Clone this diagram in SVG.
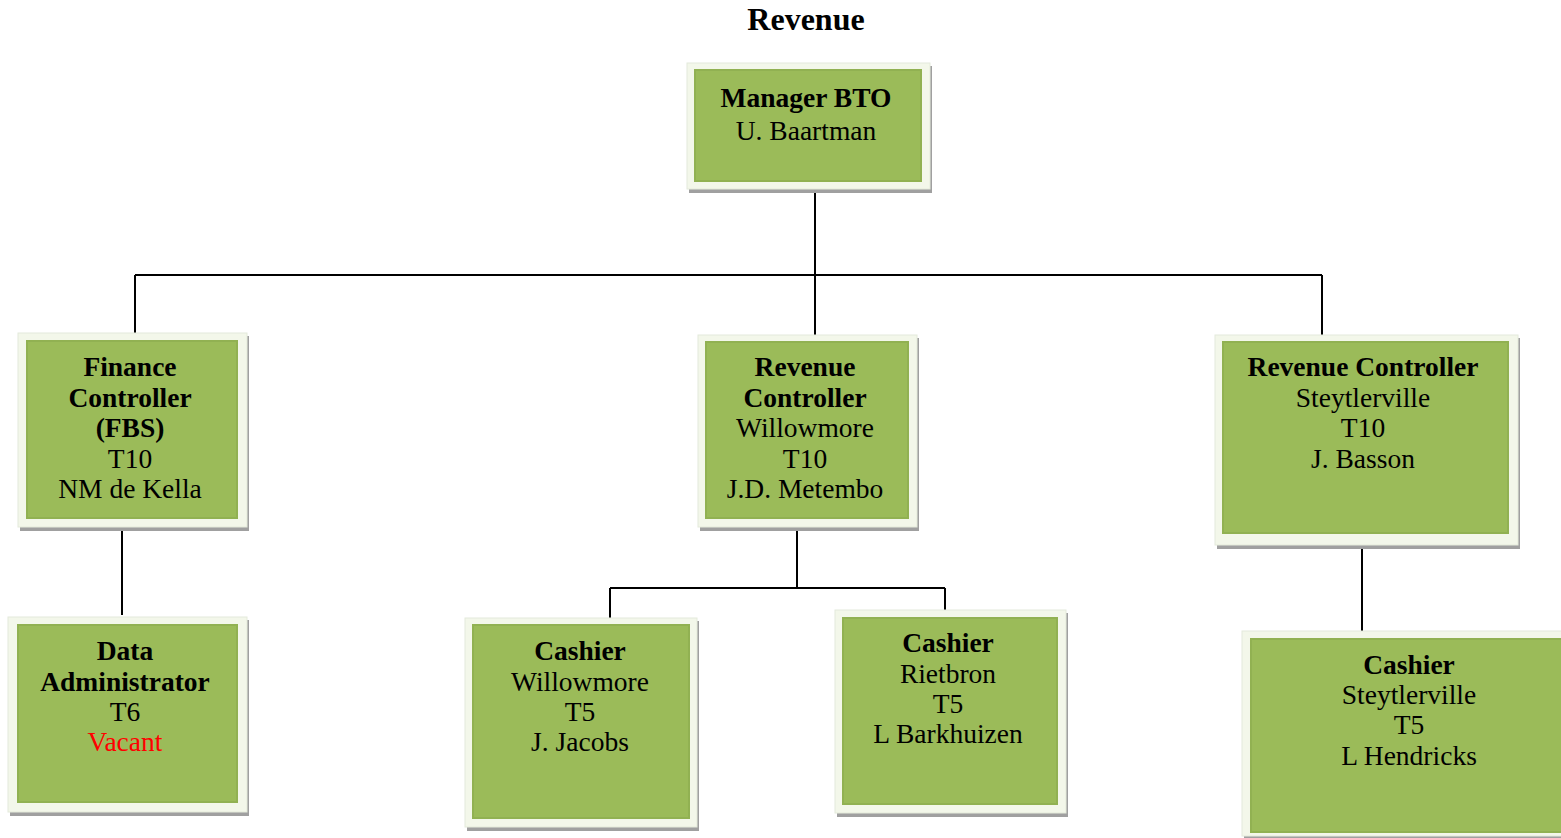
<svg xmlns="http://www.w3.org/2000/svg" width="1561" height="838" viewBox="0 0 1561 838">
<style>
.sh{fill:#a0a0a0;}
.fr{fill:#f3f7ea;stroke:#e4eadb;stroke-width:1;}
.in{fill:#9bbb59;stroke:#91b152;stroke-width:2;}
text{font-family:"Liberation Serif","Times New Roman",serif;font-size:27.5px;fill:#000;text-anchor:middle;}
.b{font-weight:bold;}
.t{font-size:32px;}
.red{fill:#ff0000;}
.con{stroke:#000;stroke-width:2;fill:none;}
</style>
<rect width="1561" height="838" fill="#ffffff"/>
<text id="title" class="b t" x="806" y="30">Revenue</text>
<g id="connectors">
<path class="con" d="M815 192V337"/>
<path class="con" d="M135 275H1322"/>
<path class="con" d="M135 275V334"/>
<path class="con" d="M1322 275V336"/>
<path class="con" d="M122 530V615"/>
<path class="con" d="M797 530V588"/>
<path class="con" d="M610 588H945"/>
<path class="con" d="M610 588V619"/>
<path class="con" d="M945 588V611"/>
<path class="con" d="M1362 548V636"/>
</g>
<g id="manager">
<rect class="sh" x="689" y="66" width="243" height="127"/>
<rect class="fr" x="687" y="63" width="243" height="126"/>
<rect class="in" x="695" y="70" width="226" height="111"/>
<text class="b" x="806" y="107">Manager BTO</text>
<text x="806" y="140">U. Baartman</text>
</g>
<g id="finance">
<rect class="sh" x="20" y="336" width="229" height="195"/>
<rect class="fr" x="18" y="333" width="229" height="194"/>
<rect class="in" x="27" y="341" width="210" height="177"/>
<text class="b" x="130" y="376">Finance</text>
<text class="b" x="130" y="407">Controller</text>
<text class="b" x="130" y="437">(FBS)</text>
<text x="130" y="468">T10</text>
<text x="130" y="498">NM de Kella</text>
</g>
<g id="rev-willowmore">
<rect class="sh" x="700" y="338" width="219" height="193"/>
<rect class="fr" x="698" y="335" width="219" height="192"/>
<rect class="in" x="706" y="342" width="202" height="176"/>
<text class="b" x="805" y="376">Revenue</text>
<text class="b" x="805" y="407">Controller</text>
<text x="805" y="437">Willowmore</text>
<text x="805" y="468">T10</text>
<text x="805" y="498">J.D. Metembo</text>
</g>
<g id="rev-steytlerville">
<rect class="sh" x="1217" y="338" width="303" height="211"/>
<rect class="fr" x="1215" y="335" width="303" height="210"/>
<rect class="in" x="1223" y="342" width="285" height="191"/>
<text class="b" x="1363" y="376">Revenue Controller</text>
<text x="1363" y="407">Steytlerville</text>
<text x="1363" y="437">T10</text>
<text x="1363" y="468">J. Basson</text>
</g>
<g id="data-admin">
<rect class="sh" x="10" y="620" width="239" height="196"/>
<rect class="fr" x="8" y="617" width="239" height="195"/>
<rect class="in" x="18" y="625" width="219" height="177"/>
<text class="b" x="125" y="660">Data</text>
<text class="b" x="125" y="691">Administrator</text>
<text x="125" y="721">T6</text>
<text class="red" x="125" y="751">Vacant</text>
</g>
<g id="cashier-willowmore">
<rect class="sh" x="467" y="621" width="232" height="210"/>
<rect class="fr" x="465" y="618" width="232" height="209"/>
<rect class="in" x="473" y="625" width="216" height="193"/>
<text class="b" x="580" y="660">Cashier</text>
<text x="580" y="691">Willowmore</text>
<text x="580" y="721">T5</text>
<text x="580" y="751">J. Jacobs</text>
</g>
<g id="cashier-rietbron">
<rect class="sh" x="837" y="613" width="231" height="204"/>
<rect class="fr" x="835" y="610" width="231" height="203"/>
<rect class="in" x="843" y="618" width="214" height="186"/>
<text class="b" x="948" y="652">Cashier</text>
<text x="948" y="683">Rietbron</text>
<text x="948" y="713">T5</text>
<text x="948" y="743">L Barkhuizen</text>
</g>
<g id="cashier-steytlerville">
<rect class="sh" x="1244" y="634" width="334" height="206"/>
<rect class="fr" x="1242" y="631" width="334" height="205"/>
<rect class="in" x="1251" y="639" width="316" height="193"/>
<text class="b" x="1409" y="674">Cashier</text>
<text x="1409" y="704">Steytlerville</text>
<text x="1409" y="734">T5</text>
<text x="1409" y="765">L Hendricks</text>
</g>
</svg>
